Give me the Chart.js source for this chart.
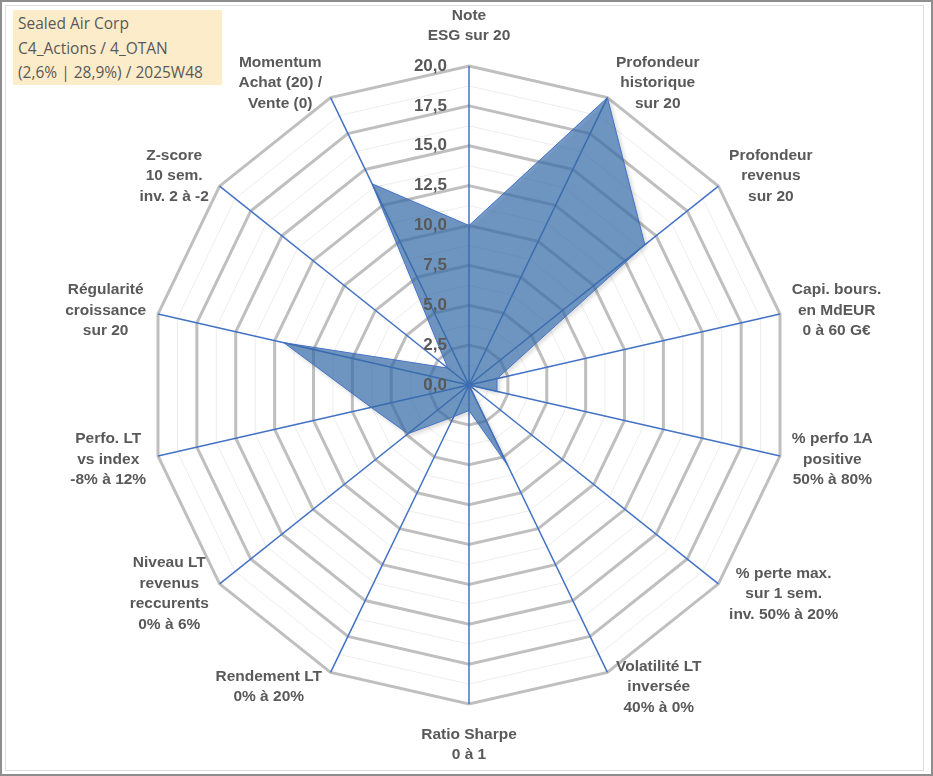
<!DOCTYPE html>
<html>
<head>
<meta charset="utf-8">
<script src="https://cdn.jsdelivr.net/npm/chart.js@4.4.1/dist/chart.umd.min.js"></script>
<style>
  html, body { margin: 0; padding: 0; background: #ffffff; }
  #wrap { position: relative; width: 933px; height: 776px; overflow: hidden; background: #fff; }
  #chart { position: absolute; left: 0; top: 0; }
  #frame { position: absolute; left: 0; top: 0; width: 929px; height: 772px; border: 2px solid #8e8e8e; pointer-events: none; }
  #inner { position: absolute; left: 5px; top: 5px; width: 917px; height: 764px; border: 1px solid #dcdcdc; pointer-events: none; }
  #box { position: absolute; left: 13px; top: 10px; width: 204px; height: 73px; padding: 1px 0 1px 5px;
         background: #fdecc9; color: #595959; font-family: "Open Sans", "Noto Sans", sans-serif;
         font-size: 15.5px; line-height: 24.5px; white-space: nowrap; }
</style>
</head>
<body>
<div id="wrap">
  <canvas id="chart" width="933" height="776"></canvas>
  <div id="box">Sealed Air Corp<br>C4_Actions / 4_OTAN<br>(2,6% | 28,9%) / 2025W48</div>
  <div id="inner"></div>
  <div id="frame"></div>
</div>
<script>
// ---- Data ----
const categories = [
  ['Note', 'ESG sur 20'],
  ['Profondeur', 'historique', 'sur 20'],
  ['Profondeur', 'revenus', 'sur 20'],
  ['Capi. bours.', 'en MdEUR', '0 à 60 G€'],
  ['% perfo 1A', 'positive', '50% à 80%'],
  ['% perte max.', 'sur 1 sem.', 'inv. 50% à 20%'],
  ['Volatilité LT', 'inversée', '40% à 0%'],
  ['Ratio Sharpe', '0 à 1'],
  ['Rendement LT', '0% à 20%'],
  ['Niveau LT', 'revenus', 'reccurents', '0% à 6%'],
  ['Perfo. LT', 'vs index', '-8% à 12%'],
  ['Régularité', 'croissance', 'sur 20'],
  ['Z-score', '10 sem.', 'inv. 2 à -2'],
  ['Momentum', 'Achat (20) /', 'Vente (0)']
];
const scoreValues = [10.0, 20.0, 14.1, 1.8, 1.8, 0.0, 5.6, 1.6, 2.2, 4.9, 6.3, 11.9, 1.7, 14.0];
const tickValues = [0, 2.5, 5, 7.5, 10, 12.5, 15, 17.5, 20];
const tickLabels = ['0,0', '2,5', '5,0', '7,5', '10,0', '12,5', '15,0', '17,5', '20,0'];

const labelPlugin = {
  id: 'labelPlugin',
  beforeDatasetsDraw(chart) {
    const ctx = chart.ctx;
    ctx.save();
    ctx.shadowColor = 'rgba(0,0,0,0.2)';
    ctx.shadowBlur = 4;
    ctx.shadowOffsetX = 2;
    ctx.shadowOffsetY = 2;
  },
  afterDatasetsDraw(chart) {
    const ctx = chart.ctx;
    ctx.restore();
    const s = chart.scales.r;
    ctx.save();
    // tick labels
    ctx.font = 'bold 17px "Liberation Sans", Arial, sans-serif';
    ctx.fillStyle = '#595959';
    ctx.textAlign = 'right';
    ctx.textBaseline = 'middle';
    tickValues.forEach((v, i) => {
      const d = s.getDistanceFromCenterForValue(v);
      ctx.fillText(tickLabels[i], s.xCenter - 22, s.yCenter - d);
    });
    // point labels
    ctx.font = 'bold 15.5px "Liberation Sans", Arial, sans-serif';
    ctx.textAlign = 'center';
    const lh = 20.5;
    categories.forEach((lines, i) => {
      const p = s.getPointPosition(i, s.drawingArea);
      const a = p.angle + Math.PI / 2;
      const sn = Math.sin(a), cs = Math.cos(a);
      const w = Math.max(...lines.map(l => ctx.measureText(l).width));
      const h = lines.length * lh;
      let cx, cy;
      if (Math.abs(sn) < 0.01) {
        cx = p.x;
        cy = p.y - cs * (h / 2 + 20);
      } else {
        cx = p.x + Math.sign(sn) * (w / 2 + 6 + 6 * Math.abs(sn));
        cy = p.y - cs * 16;
      }
      lines.forEach((l, k) => ctx.fillText(l, cx, cy - h / 2 + lh * (k + 0.5)));
    });
    ctx.restore();
  }
};

new Chart(document.getElementById('chart'), {
  type: 'radar',
  data: {
    labels: categories,
    datasets: [{
      data: scoreValues,
      backgroundColor: 'rgba(58,114,178,0.68)',
      borderColor: '#4472C4',
      borderWidth: 1,
      pointRadius: 0,
      fill: true
    }]
  },
  options: {
    responsive: false,
    animation: false,
    devicePixelRatio: 1,
    layout: { padding: { top: 66, bottom: 72, left: 150, right: 145 } },
    plugins: { legend: { display: false }, tooltip: { enabled: false } },
    scales: {
      r: {
        min: 0,
        max: 20,
        ticks: { display: false, stepSize: 1.25 },
        pointLabels: { display: false },
        angleLines: { color: '#4472C4', lineWidth: 1.5 },
        grid: {
          color: c => (c.index % 2 === 0 ? '#BFBFBF' : '#EDEDED'),
          lineWidth: c => (c.index % 2 === 0 ? 3 : 1)
        }
      }
    }
  },
  plugins: [labelPlugin]
});
</script>
</body>
</html>
